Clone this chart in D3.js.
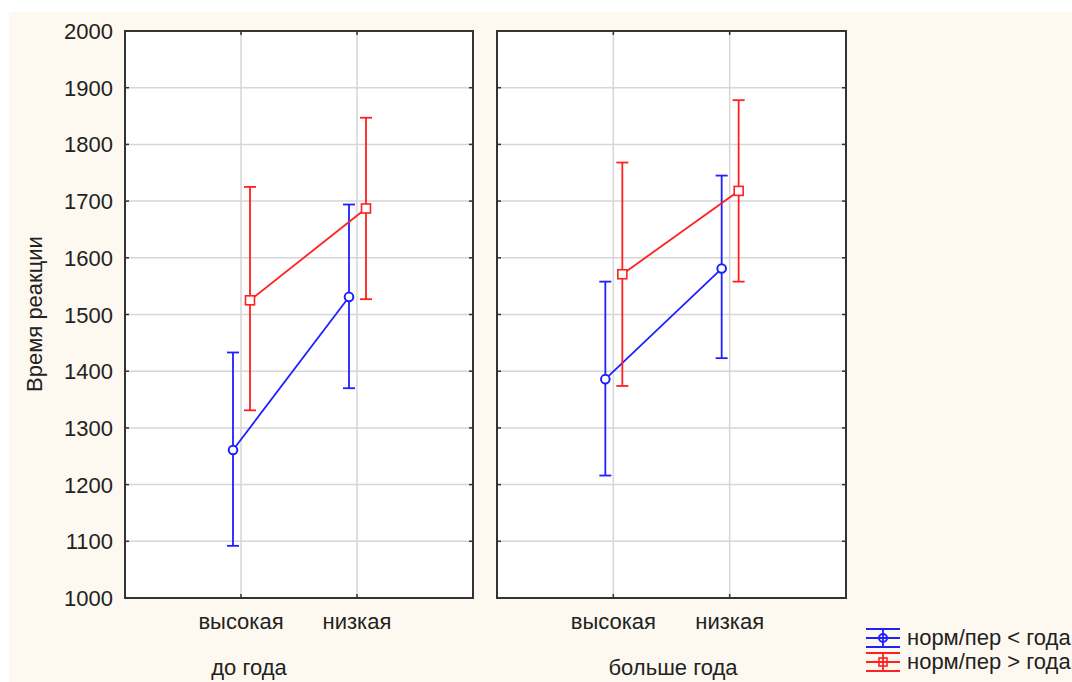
<!DOCTYPE html>
<html><head><meta charset="utf-8">
<script src="https://cdn.jsdelivr.net/npm/d3@7"></script>
<style>body{margin:0;background:#fff}svg{display:block}text{font-family:Arial,"Liberation Sans",sans-serif;fill:#222}</style>
</head><body>
<svg id="c" width="1072" height="682"></svg>
<script>
const categories = ["высокая", "низкая"];
const groups = ["до года", "больше года"];
const seriesNames = ["норм/пер < года", "норм/пер > года"];
const yTicks = [1000,1100,1200,1300,1400,1500,1600,1700,1800,1900,2000];
// [group][category]
const blueMean  = [[1261, 1531], [1386, 1581]];
const blueLow   = [[1092, 1370], [1216, 1423]];
const blueHigh  = [[1433, 1694], [1558, 1745]];
const redMean   = [[1525, 1687], [1571, 1718]];
const redLow    = [[1331, 1527], [1374, 1558]];
const redHigh   = [[1725, 1847], [1768, 1878]];

(function(){
const svg = d3.select("#c");
svg.append("rect").attr("x",9).attr("y",12).attr("width",1063).attr("height",670).attr("fill","#fdf9f0");

const pTop = 31, pBottom = 598;
const fs = 22;
const panels = [{x0:125,x1:473,label:249},{x0:497,x1:846,label:673}];
const y = d3.scaleLinear().domain([1000,2000]).range([pBottom, pTop]);
const colors = ["#1f1fff", "#ff2020"];
const offsets = [-8, 9];
const sw = 1.8;
const series = [
  {mean: blueMean, lo: blueLow, hi: blueHigh, shape: "circle"},
  {mean: redMean, lo: redLow, hi: redHigh, shape: "square"}
];

panels.forEach((p, gi) => {
  const x = d3.scalePoint().domain(categories).range([p.x0, p.x1]).padding(1);
  const g = svg.append("g");
  g.append("rect").attr("x",p.x0).attr("y",pTop).attr("width",p.x1-p.x0).attr("height",pBottom-pTop).attr("fill","#fff");
  g.selectAll(".hg").data(yTicks.slice(1,-1)).join("line")
    .attr("x1",p.x0).attr("x2",p.x1).attr("y1",d=>y(d)).attr("y2",d=>y(d))
    .attr("stroke","#d6d6d6").attr("stroke-width",1.5);
  g.selectAll(".vg").data(categories).join("line")
    .attr("x1",d=>x(d)).attr("x2",d=>x(d)).attr("y1",pTop).attr("y2",pBottom)
    .attr("stroke","#d6d6d6").attr("stroke-width",1.5);
  yTicks.forEach(t => {
    g.append("line").attr("x1",p.x0).attr("x2",p.x0+4).attr("y1",y(t)).attr("y2",y(t)).attr("stroke","#333").attr("stroke-width",1.5);
    g.append("line").attr("x1",p.x1-4).attr("x2",p.x1).attr("y1",y(t)).attr("y2",y(t)).attr("stroke","#333").attr("stroke-width",1.5);
  });
  categories.forEach(c => {
    g.append("line").attr("x1",x(c)).attr("x2",x(c)).attr("y1",pTop).attr("y2",pTop+4).attr("stroke","#333").attr("stroke-width",1.5);
    g.append("line").attr("x1",x(c)).attr("x2",x(c)).attr("y1",pBottom-4).attr("y2",pBottom).attr("stroke","#333").attr("stroke-width",1.5);
  });
  series.forEach((s, si) => {
    const col = colors[si];
    const px = c => x(c) + offsets[si];
    const line = d3.line().x((d,i)=>px(categories[i])).y(d=>y(d));
    g.append("path").attr("d", line(s.mean[gi])).attr("fill","none").attr("stroke",col).attr("stroke-width",sw);
    categories.forEach((c, ci) => {
      const cx = px(c);
      g.append("line").attr("x1",cx).attr("x2",cx).attr("y1",y(s.lo[gi][ci])).attr("y2",y(s.hi[gi][ci])).attr("stroke",col).attr("stroke-width",sw);
      [s.lo[gi][ci], s.hi[gi][ci]].forEach(v => {
        g.append("line").attr("x1",cx-6).attr("x2",cx+6).attr("y1",y(v)).attr("y2",y(v)).attr("stroke",col).attr("stroke-width",sw);
      });
      const cy = y(s.mean[gi][ci]);
      if (s.shape === "circle") {
        g.append("circle").attr("cx",cx).attr("cy",cy).attr("r",4.3).attr("fill","#fff").attr("stroke",col).attr("stroke-width",2);
      } else {
        g.append("rect").attr("x",cx-4.5).attr("y",cy-4.5).attr("width",9).attr("height",9).attr("fill","#fff").attr("stroke",col).attr("stroke-width",1.6);
      }
    });
  });
  g.append("rect").attr("x",p.x0).attr("y",pTop).attr("width",p.x1-p.x0).attr("height",pBottom-pTop).attr("fill","none").attr("stroke","#333").attr("stroke-width",2);
  g.selectAll(".cl").data(categories).join("text")
    .attr("x",d=>x(d)).attr("y",629).attr("text-anchor","middle").attr("font-size",fs).text(d=>d);
  g.append("text").attr("x",p.label).attr("y",675).attr("text-anchor","middle").attr("font-size",fs).text(groups[gi]);
});

svg.selectAll(".yl").data(yTicks).join("text")
  .attr("x",113).attr("y",d=>y(d)+8).attr("text-anchor","end").attr("font-size",fs).text(d=>d);
svg.append("text").attr("transform","translate(42,314) rotate(-90)").attr("text-anchor","middle").attr("font-size",fs).text("Время реакции");

seriesNames.forEach((n, i) => {
  const cy = 638 + i*24;
  const col = colors[i];
  const lg = svg.append("g");
  [cy-9, cy, cy+9].forEach(yy => lg.append("line").attr("x1",866).attr("x2",900).attr("y1",yy).attr("y2",yy).attr("stroke",col).attr("stroke-width",sw));
  lg.append("line").attr("x1",883).attr("x2",883).attr("y1",cy-9).attr("y2",cy+9).attr("stroke",col).attr("stroke-width",sw);
  if (i === 0) lg.append("circle").attr("cx",883).attr("cy",cy).attr("r",4).attr("fill","none").attr("stroke",col).attr("stroke-width",2);
  else lg.append("rect").attr("x",879).attr("y",cy-4).attr("width",8).attr("height",8).attr("fill","none").attr("stroke",col).attr("stroke-width",1.6);
  lg.append("text").attr("x",907).attr("y",cy+7).attr("font-size",fs).text(n);
});
})();
</script>
</body></html>
